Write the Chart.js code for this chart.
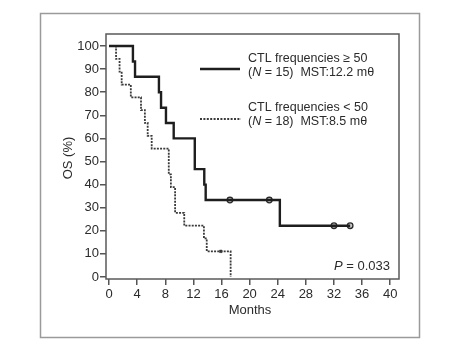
<!DOCTYPE html>
<html lang="en">
<head>
    <meta charset="UTF-8">
    <title>OS by CTL frequency</title>
    <script src="https://cdn.jsdelivr.net/npm/chart.js"></script>
    <style>
        body {
            margin: 0;
            background: #fff;
        }
        #wrap {
            width: 462px;
            height: 345px;
        }
    </style>
</head>
<body>
    <div id="wrap">
        <canvas id="km" width="462" height="345"></canvas>
    </div>

    <script>
        // Kaplan-Meier steps (months, % surviving)
        const highTimes = [0, 3.4, 3.7, 7.1, 7.4, 8.1, 9.2, 12.2, 13.55, 13.75, 24.3, 34.3];
        const highSurv  = [100, 93.3, 86.7, 80, 73.3, 66.7, 60, 46.7, 40, 33.3, 22.2, 22.2];
        const highCensTimes = [17.2, 22.8, 32.0, 34.3];
        const highCensSurv  = [33.3, 33.3, 22.2, 22.2];

        const lowTimes = [0, 1.0, 1.5, 1.8, 3.1, 4.55, 5.1, 5.5, 6.07, 8.5, 8.8, 9.4, 10.7, 13.5, 13.9, 17.3];
        const lowSurv  = [100, 94.4, 88.9, 83.3, 77.8, 72.2, 66.7, 61.1, 55.6, 44.4, 38.9, 27.8, 22.2, 16.7, 11.1, 0];
        const lowCensTimes = [15.9];
        const lowCensSurv  = [11.1];

        const xTicks = [0, 4, 8, 12, 16, 20, 24, 28, 32, 36, 40];
        const yTicks = [0, 10, 20, 30, 40, 50, 60, 70, 80, 90, 100];

        const ink = '#2b2b2b';
        const fontFam = '"Liberation Sans", Arial, sans-serif';

        const toPts = (xs, ys) => xs.map((x, i) => ({ x: x, y: ys[i] }));

        // frames, legend and annotations
        const decor = {
            id: 'decor',
            afterDraw(chart) {
                const ctx = chart.ctx;
                const a = chart.chartArea;
                ctx.save();

                // outer panel
                ctx.strokeStyle = '#9a9a9a';
                ctx.lineWidth = 1.5;
                ctx.strokeRect(40.5, 13.5, 379, 324);

                // plot frame
                ctx.strokeStyle = '#5a5a5a';
                ctx.lineWidth = 1.5;
                ctx.strokeRect(a.left, a.top, a.right - a.left, a.bottom - a.top);

                ctx.fillStyle = ink;
                ctx.textBaseline = 'middle';

                // legend
                const legFont = '12.5px ' + fontFam;
                const legItalic = 'italic 12.5px ' + fontFam;
                function nLine(x, y, n, mst) {
                    ctx.font = legFont;
                    ctx.fillText('(', x, y);
                    x += ctx.measureText('(').width;
                    ctx.font = legItalic;
                    ctx.fillText('N', x, y);
                    x += ctx.measureText('N').width;
                    ctx.font = legFont;
                    ctx.fillText(' = ' + n + ')  MST:' + mst + ' m\u03b8', x, y);
                }

                ctx.lineCap = 'butt';
                ctx.strokeStyle = '#1e1e1e';
                ctx.lineWidth = 2.6;
                ctx.setLineDash([]);
                ctx.beginPath();
                ctx.moveTo(200, 69);
                ctx.lineTo(240, 69);
                ctx.stroke();

                ctx.strokeStyle = '#3a3a3a';
                ctx.lineWidth = 2;
                ctx.setLineDash([2, 1.4]);
                ctx.beginPath();
                ctx.moveTo(200, 119);
                ctx.lineTo(241, 119);
                ctx.stroke();
                ctx.setLineDash([]);

                ctx.textAlign = 'left';
                ctx.font = legFont;
                ctx.fillText('CTL frequencies \u2265 50', 248, 59);
                nLine(248, 73, 15, '12.2');
                ctx.font = legFont;
                ctx.fillText('CTL frequencies < 50', 248, 108);
                nLine(248, 122, 18, '8.5');

                // p value
                ctx.font = '13px ' + fontFam;
                const rest = ' = 0.033';
                const rw = ctx.measureText(rest).width;
                ctx.textAlign = 'right';
                ctx.fillText(rest, 390, 266);
                ctx.font = 'italic 13px ' + fontFam;
                ctx.fillText('P', 390 - rw, 266);

                // axis titles
                ctx.font = '13px ' + fontFam;
                ctx.textAlign = 'center';
                ctx.fillText('Months', 250, 310);
                ctx.translate(68, 158);
                ctx.rotate(-Math.PI / 2);
                ctx.fillText('OS (%)', 0, 0);

                ctx.restore();
            }
        };

        new Chart(document.getElementById('km'), {
            type: 'line',
            data: {
                datasets: [
                    {
                        label: 'CTL frequencies \u2265 50',
                        data: toPts(highTimes, highSurv),
                        stepped: true,
                        borderColor: '#1e1e1e',
                        borderWidth: 2.4,
                        pointRadius: 0,
                        fill: false
                    },
                    {
                        label: 'CTL frequencies < 50',
                        data: toPts(lowTimes, lowSurv),
                        stepped: true,
                        borderColor: '#3a3a3a',
                        borderWidth: 1.8,
                        borderDash: [2, 1.2],
                        pointRadius: 0,
                        fill: false
                    },
                    {
                        label: 'censored high',
                        data: toPts(highCensTimes, highCensSurv),
                        showLine: false,
                        pointRadius: 2.8,
                        pointStyle: 'circle',
                        pointBackgroundColor: '#c8c8c8',
                        pointBorderColor: '#2b2b2b',
                        pointBorderWidth: 1.3
                    },
                    {
                        label: 'censored low',
                        data: toPts(lowCensTimes, lowCensSurv),
                        showLine: false,
                        pointRadius: 1.8,
                        pointStyle: 'rect',
                        pointBackgroundColor: '#2b2b2b',
                        pointBorderColor: '#2b2b2b',
                        pointBorderWidth: 0.5
                    }
                ]
            },
            options: {
                responsive: false,
                animation: false,
                layout: {
                    padding: { left: 0, top: 34, right: 63, bottom: 0 }
                },
                plugins: {
                    legend: { display: false },
                    tooltip: { enabled: false }
                },
                scales: {
                    x: {
                        type: 'linear',
                        min: -0.43,
                        max: 41.25,
                        afterFit: s => { s.height = 66; },
                        afterBuildTicks: s => { s.ticks = xTicks.map(v => ({ value: v })); },
                        grid: {
                            drawOnChartArea: false,
                            tickLength: 6,
                            color: '#555',
                            lineWidth: 1.5
                        },
                        border: { display: false },
                        ticks: {
                            color: ink,
                            padding: 2,
                            maxRotation: 0,
                            autoSkip: false,
                            font: { family: fontFam, size: 13 }
                        }
                    },
                    y: {
                        min: -0.87,
                        max: 105.2,
                        afterFit: s => { s.width = 106; },
                        afterBuildTicks: s => { s.ticks = yTicks.map(v => ({ value: v })); },
                        grid: {
                            drawOnChartArea: false,
                            tickLength: 6,
                            color: '#555',
                            lineWidth: 1.5
                        },
                        border: { display: false },
                        ticks: {
                            color: ink,
                            padding: 1,
                            autoSkip: false,
                            font: { family: fontFam, size: 13 }
                        }
                    }
                }
            },
            plugins: [decor]
        });
    </script>
</body>
</html>
